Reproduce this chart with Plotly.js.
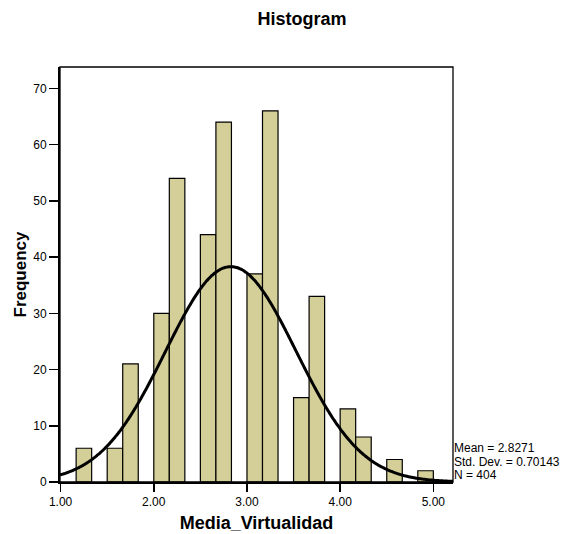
<!DOCTYPE html>
<html>
<head>
<meta charset="utf-8">
<script src="https://cdn.plot.ly/plotly-3.0.1.min.js"></script>
<style>
  html, body { margin: 0; padding: 0; background: #ffffff; }
  #chart { width: 570px; height: 534px; }
</style>
</head>
<body>
<div id="chart"></div>
<script>
// Histogram bins (lower edge of each non-empty bin, bin width = 1/6)
const binStart = [1.1667, 1.5, 1.6667, 2.0, 2.1667, 2.5, 2.6667, 3.0, 3.1667, 3.5, 3.6667, 4.0, 4.1667, 4.5, 4.8333];
const counts   = [6, 6, 21, 30, 54, 44, 64, 37, 66, 15, 33, 13, 8, 4, 2];
const binWidth = 1 / 6;

// Reported statistics
const MEAN = 2.8271;
const SD = 0.70143;
const N = 404;
const statLines = ['Mean = 2.8271', 'Std. Dev. = 0.70143', 'N = 404'];

const xTickVals = [1, 2, 3, 4, 5];
const xTickText = ['1.00', '2.00', '3.00', '4.00', '5.00'];
const yTickVals = [0, 10, 20, 30, 40, 50, 60, 70];

const xRange = [0.9936, 5.211];
const yRange = [0, 73.8];

// Normal curve scaled to frequency (N * binWidth * pdf)
const curveX = [];
const curveY = [];
const steps = 300;
for (let i = 0; i <= steps; i++) {
  const x = xRange[0] + (xRange[1] - xRange[0]) * i / steps;
  const z = (x - MEAN) / SD;
  curveX.push(x);
  curveY.push(N * binWidth * Math.exp(-0.5 * z * z) / (SD * Math.sqrt(2 * Math.PI)));
}

const FONT = 'Liberation Sans, Arial, sans-serif';

const bars = {
  type: 'bar',
  x: binStart,
  y: counts,
  width: binWidth,
  offset: 0,
  marker: { color: '#d4ce98', line: { color: '#000000', width: 1.2 } },
  hoverinfo: 'x+y',
  showlegend: false
};

const curve = {
  type: 'scatter',
  mode: 'lines',
  x: curveX,
  y: curveY,
  line: { color: '#000000', width: 3, shape: 'spline' },
  hoverinfo: 'skip',
  showlegend: false
};

const statShifts = [33.8, 20.2, 6.6];
const statAnnotations = statLines.map((t, i) => ({
  xref: 'paper', yref: 'paper',
  x: 1, y: 0,
  xanchor: 'left', yanchor: 'middle',
  xshift: 0, yshift: statShifts[i],
  align: 'left',
  showarrow: false,
  borderpad: 0,
  text: t,
  font: { family: FONT, size: 12, color: '#000000' }
}));

const layout = {
  width: 570,
  height: 534,
  margin: { l: 60, r: 117, t: 67, b: 52, pad: 0 },
  paper_bgcolor: '#ffffff',
  plot_bgcolor: '#ffffff',
  font: { family: FONT, color: '#000000', size: 12 },
  title: {
    text: '<b>Histogram</b>',
    font: { family: FONT, size: 18, color: '#000000' },
    x: 302 / 570, xanchor: 'center', xref: 'container',
    y: 1 - 19 / 534, yanchor: 'middle', yref: 'container'
  },
  bargap: 0,
  xaxis: {
    range: xRange,
    tickvals: xTickVals,
    ticktext: xTickText,
    ticks: 'outside', ticklen: 8, tickwidth: 1.5, tickcolor: '#000000',
    showline: true, linecolor: '#000000', linewidth: 2,
    showgrid: false, zeroline: false,
    tickfont: { family: FONT, size: 12, color: '#000000' },
    title: {
      text: '<b>Media_Virtualidad</b>',
      font: { family: FONT, size: 18, color: '#000000' },
      standoff: 8
    }
  },
  yaxis: {
    range: yRange,
    tickvals: yTickVals,
    ticks: 'outside', ticklen: 9, tickwidth: 1.5, tickcolor: '#000000',
    showline: true, linecolor: '#000000', linewidth: 2,
    showgrid: false, zeroline: false,
    tickfont: { family: FONT, size: 12, color: '#000000' },
    title: {
      text: '<b>Frequency</b>',
      font: { family: FONT, size: 17, color: '#000000' },
      standoff: 2
    }
  },
  shapes: [{
    type: 'rect', xref: 'paper', yref: 'paper',
    x0: 0, x1: 1, y0: 0, y1: 1,
    line: { color: '#000000', width: 1.3 },
    fillcolor: 'rgba(0,0,0,0)',
    layer: 'above'
  }],
  annotations: statAnnotations
};

Plotly.newPlot('chart', [bars, curve], layout, { displayModeBar: false, staticPlot: true });
</script>
</body>
</html>
